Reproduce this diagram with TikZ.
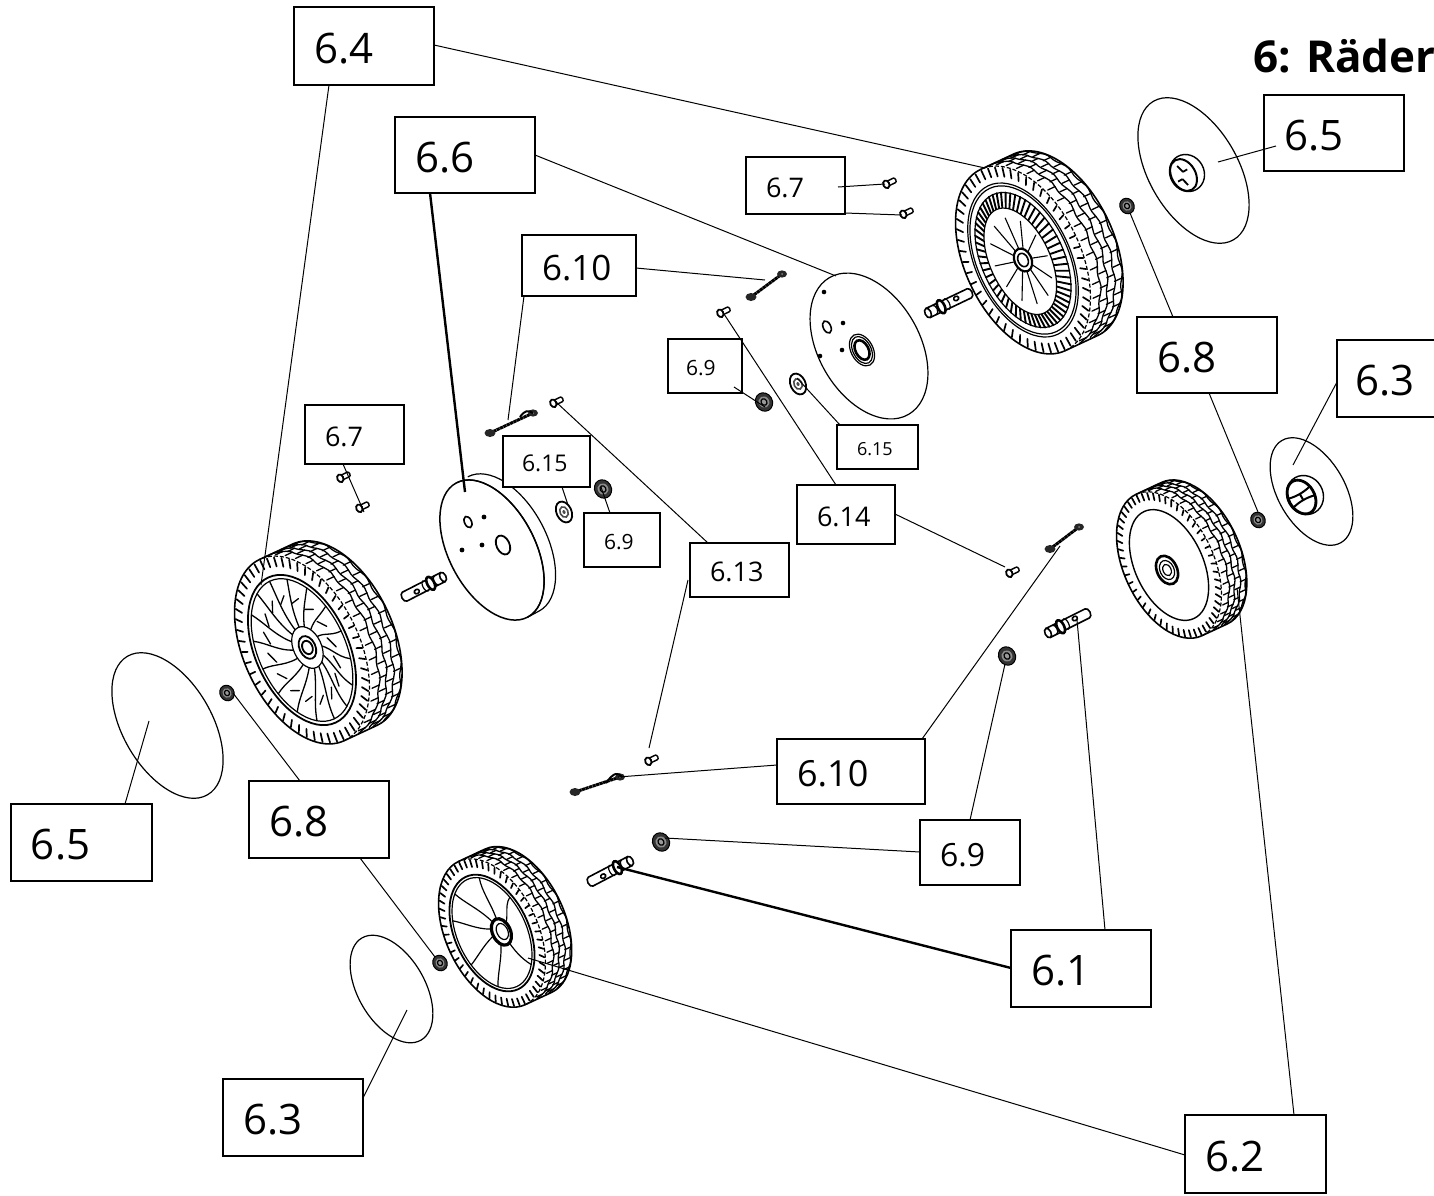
\documentclass[tikz,border=0pt]{standalone}
\usepackage{fontspec}
\setmainfont{Open Sans}
\usetikzlibrary{calc}
\tikzset{
  bx/.style={draw=black,line width=1.25pt,fill=white,anchor=north west,inner ysep=0pt,outer sep=0pt,align=left},
  lead/.style={draw=black,line width=0.5pt},
  leadthick/.style={draw=black,line width=1.2pt},
  part/.style={draw=black,line width=0.6pt},
  tread/.style={draw=black,line width=0.65pt,line cap=round}
}
\newcommand\bxx[8]{%
  \pgfmathsetlengthmacro\bw{(#4-#2)*0.5pt}%
  \pgfmathsetlengthmacro\bh{(#5-#3)*0.5pt}%
  \pgfmathsetlengthmacro\bi{#6*0.5pt}%
  \pgfmathsetlengthmacro\bt{\bw-2*\bi}%
  \node[bx,minimum width=\bw,minimum height=\bh,inner xsep=\bi,text width=\bt] (#1) at (#2,#3)
    {\fontsize{#7}{#7}\selectfont\mbox{\raisebox{-1pt}[1\height][0pt]{#8}}};}
% wheel: cx cy a b w inner-drawing
\newcommand\wheelpart[6]{%
\begin{scope}[shift={(#1,#2)},rotate=-65]
  \def\wa{#3}\def\wb{#4}\def\ww{#5}
  \draw[part,line width=.8pt] (\wa,0) arc[start angle=0,end angle=180,x radius=\wa,y radius=\wb]
     -- (-\wa,-\ww) arc[start angle=180,end angle=360,x radius=\wa,y radius=\wb] -- cycle;
  \draw[part,dash pattern=on 2pt off 1pt] (\wa,0) arc[start angle=0,end angle=-180,x radius=\wa,y radius=\wb];
  % sidewall teeth
  \foreach \k in {0,...,51}{
    \pgfmathsetmacro\tq{\k*6.923}
    \draw[tread,line width=.85pt] ({.985*\wa*cos(\tq)},{.985*\wb*sin(\tq)}) -- ({.89*\wa*cos(\tq)},{.89*\wb*sin(\tq)});
  }
  % tread blocks
  \foreach \r in {0,1,2,3}{
    \pgfmathsetmacro\sa{.08+.22*\r}
    \pgfmathsetmacro\sb{\sa+.22}
    \foreach \j in {0,...,18}{
      \pgfmathsetmacro\tta{184+9*\j+4.5*mod(\r,2)}
      \pgfmathsetmacro\ttb{\tta+9}
      \pgfmathsetmacro\ttm{\tta+4.5}
      \pgfmathsetmacro\wob{(mod(\j+\r,2)-.5)*.08}
      \ifdim\ttb pt<358pt
      \draw[tread] ({\wa*cos(\tta)},{\wb*sin(\tta)-\sa*\ww}) -- ({\wa*cos(\tta)},{\wb*sin(\tta)-\sb*\ww});
      \draw[tread,rounded corners=1pt] ({\wa*cos(\tta)},{\wb*sin(\tta)-\sb*\ww})
         -- ({\wa*cos(\ttm)},{\wb*sin(\ttm)-(\sb+\wob)*\ww})
         -- ({\wa*cos(\ttb)},{\wb*sin(\ttb)-\sb*\ww});
      \fi
    }
  }
  #6
\end{scope}}
% flat disc: cx cy a b angle
\newcommand\disc[5]{\begin{scope}[shift={(#1,#2)},rotate=-#5]\draw[part] (0,0) ellipse[x radius=#3,y radius=#4];\end{scope}}
\newcommand\nut[3]{\begin{scope}[shift={(#1,#2)},rotate=-60]
  \fill[black!80] (0,0) ellipse[x radius=#3,y radius=.88*#3];
  \draw[black,line width=.5pt] (0,0) ellipse[x radius=#3,y radius=.88*#3];
  \fill[white!55!black] (0,0) ellipse[x radius=.62*#3,y radius=.55*#3];
  \draw[black,line width=.6pt,fill=white!60!black] (0,0) ellipse[x radius=.36*#3,y radius=.3*#3];
\end{scope}}
\newcommand\washer[2]{\begin{scope}[shift={(#1,#2)},rotate=-65]
  \draw[black,line width=.9pt,fill=white] (0,0) ellipse[x radius=11,y radius=7.5];
  \draw[black!70,line width=.8pt] (0,0) ellipse[x radius=5.5,y radius=4];
  \fill[black!70] (0,0) ellipse[x radius=2,y radius=1.5];
\end{scope}}
\newcommand\shaft[4]{%
  \pgfmathsetmacro\sang{atan2(#4-#2,#3-#1)}%
  \pgfmathsetmacro\slen{veclen(#3-#1,#4-#2)}%
  \begin{scope}[shift={(#1,#2)},rotate=-\sang]
    \draw[part,line width=.8pt] (0,-5) -- (\slen-3,-5) arc[start angle=-90,end angle=90,x radius=3,y radius=5] -- (0,5);
    \draw[part,line width=.8pt,fill=white] (0,0) ellipse[x radius=3,y radius=5];
    \draw[part] (7,-5) arc[start angle=-90,end angle=90,x radius=3,y radius=5];
    \draw[part,line width=1.3pt,fill=white] (.3*\slen,0) ellipse[x radius=3.5,y radius=7];
    \draw[part] (.42*\slen,-6) arc[start angle=-90,end angle=90,x radius=3,y radius=6];
    \draw[part,line width=.8pt,fill=white] (.65*\slen,-1) ellipse[x radius=2.6,y radius=2.2];
  \end{scope}}
\newcommand\screw[2]{\begin{scope}[shift={(#1,#2)},rotate=26]
    \draw[part,line width=.7pt] (-2,-2.5) -- (6,-2.5) arc[start angle=-90,end angle=90,x radius=1.5,y radius=2.5] -- (-2,2.5);
    \draw[part,line width=.9pt,fill=white] (-3,0) ellipse[x radius=3,y radius=4];
\end{scope}}
\newcommand\rod[4]{%
  \draw[black,line width=1.5pt,dash pattern=on 1.6pt off .25pt] (#1,#2) -- (#3,#4);
  \fill[black!85] (#1,#2) ellipse[x radius=5.5,y radius=4];
  \fill[black!85] (#3,#4) ellipse[x radius=5,y radius=3.6];
  \fill[white!50!black] (#3,#4) circle[radius=1];}
\begin{document}
\begin{tikzpicture}[x=0.5pt,y=-0.5pt]
\useasboundingbox (0,0) rectangle (1434,1195);
\fill[white] (0,0) rectangle (1434,1195);

% ---------- wheel top right
\wheelpart{1023}{260}{100}{58}{36}{%
  \draw[part] (0,0) ellipse[x radius=82,y radius=47.5];
  \draw[part] (0,0) ellipse[x radius=79,y radius=45.5];
  \draw[part] (0,0) ellipse[x radius=72,y radius=41];
  \foreach \k in {0,...,59}{\pgfmathsetmacro\tq{\k*6}
    \draw[tread,line width=.95pt] ({72*cos(\tq)},{41*sin(\tq)}) -- ({57*cos(\tq)},{30*sin(\tq)+3});}
  \draw[part,fill=white] (0,3) ellipse[x radius=57,y radius=30];
  \foreach \k in {0,...,11}{\pgfmathsetmacro\tq{\k*30+8}
    \draw[tread,line width=.55pt] ({9*cos(\tq)},{6*sin(\tq)}) -- ({46*cos(\tq)},{26*sin(\tq)+2});}
  \draw[part,line width=1.1pt,fill=white] (0,0) ellipse[x radius=12,y radius=8.5];
  \draw[part,line width=.8pt] (0,0) ellipse[x radius=7,y radius=5];
}
% ---------- wheel left
\wheelpart{302}{650}{100}{58}{36}{%
  \draw[part,line width=.9pt] (0,0) ellipse[x radius=80,y radius=46.5];
  \draw[part] (0,0) ellipse[x radius=76,y radius=43.5];
  \foreach \k in {0,...,15}{\pgfmathsetmacro\tq{\k*22.5+6}\pgfmathsetmacro\tr{\tq+16}\pgfmathsetmacro\tm{\tq+4}
    \draw[tread] ({17*cos(\tq)},{9*sin(\tq)-6}) .. controls ({40*cos(\tm)},{24*sin(\tm)-3}) and ({55*cos(\tr)},{30*sin(\tr)}) .. ({76*cos(\tr)},{43.5*sin(\tr)});
    \draw[tread] ({50*cos(\tr)},{28*sin(\tr)}) -- ({58*cos(\tr+12)},{33*sin(\tr+12)});}
  \begin{scope}[shift={(0,-6)}]
  \draw[part,fill=white] (0,0) ellipse[x radius=22,y radius=14];
  \draw[part,line width=.9pt] (0,0) ellipse[x radius=12,y radius=8];
  \draw[part,line width=.9pt] (0,0) ellipse[x radius=7,y radius=5];
  \end{scope}
}
% ---------- wheel bottom
\wheelpart{492}{933}{79}{46}{29}{%
  \draw[part,line width=.9pt] (0,0) ellipse[x radius=62,y radius=37];
  \draw[part] (0,0) ellipse[x radius=59,y radius=34.5];
  \foreach \tq/\tr in {20/30,75/70,110/118,160/150,205/200,262/245,330/320}{
    \draw[part] ({12*cos(\tq)},{7*sin(\tq)-7}) .. controls ({30*cos(\tq)},{18*sin(\tq)-4}) and ({45*cos(\tr)},{24*sin(\tr)}) .. ({59*cos(\tr)},{34.5*sin(\tr)});}
  \begin{scope}[shift={(3,-9)}]
  \draw[part,line width=1.6pt,fill=white] (0,0) ellipse[x radius=14,y radius=9];
  \draw[part,fill=white] (0,-1) ellipse[x radius=8.5,y radius=5.5];
  \end{scope}
}
% ---------- wheel right
\wheelpart{1169}{565}{78}{45}{28}{%
  \draw[part,line width=.7pt] (0,0) ellipse[x radius=59,y radius=34];
  \begin{scope}[shift={(3.7,3.9)}]
  \draw[part,line width=1.3pt,fill=white] (0,0) ellipse[x radius=15,y radius=10];
  \draw[part] (0,0) ellipse[x radius=10,y radius=7];
  \draw[part] (0,0) ellipse[x radius=6,y radius=4];
  \end{scope}
}

% ---------- plate left
\begin{scope}[shift={(492,550)},rotate=-62]
  \draw[part] (76,0) arc[start angle=0,end angle=-180,x radius=76,y radius=43];
  \draw[part] (76,-13) arc[start angle=0,end angle=-180,x radius=76,y radius=43];
  \draw[part] (76,0) -- (76,-13);
  \draw[part,line width=.75pt] (0,0) ellipse[x radius=76,y radius=43];
\end{scope}
\begin{scope}[shift={(468,522)},rotate=-65]\draw[part,line width=.8pt] (0,0) ellipse[x radius=6,y radius=3.5];\end{scope}
\begin{scope}[shift={(503,545)},rotate=-65]\draw[part,line width=.9pt] (0,0) ellipse[x radius=10,y radius=6.5];\end{scope}
\fill (484,517) circle[radius=2.4];
\fill (482,545) circle[radius=2.4];
\fill (462,550) circle[radius=2.4];

% ---------- plate top
\disc{869}{346}{79}{50.5}{60}
\begin{scope}[shift={(862,350)},rotate=-62]
  \draw[part] (0,0) ellipse[x radius=17,y radius=11];
  \draw[part] (0,0) ellipse[x radius=14.5,y radius=9];
  \draw[part,line width=1.3pt] (0,0) ellipse[x radius=10.5,y radius=6.5];
\end{scope}
\begin{scope}[shift={(827,327)},rotate=-65]\draw[part,line width=.8pt] (0,0) ellipse[x radius=6.5,y radius=3.8];\end{scope}
\fill (843,323) circle[radius=2.3];
\fill (842,350) circle[radius=2.3];
\fill (824,292) circle[radius=2.3];
\fill (820,356) circle[radius=2.3];

% ---------- discs
\disc{1193.5}{170.5}{80}{44.6}{60}
\disc{167.5}{725.5}{80}{44.6}{60}
\disc{391.5}{989}{59}{33.5}{60}
\disc{1311.5}{491.5}{59}{33.5}{60}
\begin{scope}[shift={(1187,173)},rotate=-60]
  \draw[part,line width=.7pt] (0,0) ellipse[x radius=19,y radius=17];
  \draw[part,line width=1pt] (0,4) ellipse[x radius=17,y radius=12];
  \draw[part,line width=.9pt] (-11,5) -- (-3,3) (-3,3) -- (-3,-2) (11,5) -- (3,7) (3,7) -- (3,12);
\end{scope}
\begin{scope}[shift={(1305,495)},rotate=-60]
  \draw[part,line width=.7pt] (0,0) ellipse[x radius=20,y radius=18];
  \draw[part,line width=1.4pt] (0,4) ellipse[x radius=18,y radius=13];
  \draw[part,line width=1pt] (-5,-8) .. controls (-3,0) and (-3,8) .. (-5,16);
  \draw[part,line width=1pt] (5,-8) .. controls (3,0) and (3,8) .. (5,16);
  \draw[part,line width=1pt] (-4,4) -- (4,4);
\end{scope}

% ---------- shafts
\shaft{928}{313}{972}{292}
\shaft{443}{577}{402}{598}
\shaft{1048}{633}{1090}{612}
\shaft{630}{861}{588}{883}

% ---------- nuts and washers
\nut{1127}{206}{8}
\nut{227}{693}{8}
\nut{440}{963}{8}
\nut{1258}{520}{8}
\nut{764}{402}{9.5}
\nut{603}{489}{9.5}
\nut{1007}{656}{9.5}
\nut{661}{842}{9.5}
\washer{798}{384}
\washer{564}{512}

% ---------- screws
\screw{889}{183}
\screw{906}{213}
\screw{343}{477}
\screw{362}{507}
\screw{556}{402}
\screw{651}{760}
\screw{723}{312}
\screw{1012}{572}

% ---------- rods
\rod{751}{297}{782}{274}
\rod{490}{433}{533}{413}
\draw[black,line width=1pt] (533,413) .. controls (528,410) and (525,410) .. (520,417);
\rod{575}{792}{620}{777}
\draw[black,line width=1pt] (606,783) .. controls (614,772) and (618,772) .. (622,777);
\rod{1050}{549}{1079}{527}

% ---------- named leader ends
\coordinate (w1top) at (985,168);
\coordinate (w2top) at (261,585);
\coordinate (pl) at (465,492);
\coordinate (pt) at (836,276);
\coordinate (rt) at (765,280);
\coordinate (rm) at (508,420);
\coordinate (s71) at (885,184);
\coordinate (s72) at (902,215);
\coordinate (d51) at (1218,162);
\coordinate (n81) at (1130,213);
\coordinate (n82) at (1258,512);
\coordinate (d31) at (1293,465);
\coordinate (n91) at (765,407);
\coordinate (w151) at (797,378);
\coordinate (s141) at (724,314);
\coordinate (s142) at (1005,567);
\coordinate (s131) at (556,402);
\coordinate (s132) at (649,748);
\coordinate (w152) at (568,505);
\coordinate (n92) at (601,487);
\coordinate (s73) at (364,512);
\coordinate (rb) at (618,777);
\coordinate (rr) at (1060,546);
\coordinate (n93) at (1005,664);
\coordinate (n94) at (665,838);
\coordinate (sh1) at (617,867);
\coordinate (sh2) at (1077,620);
\coordinate (w3) at (528,958);
\coordinate (w4) at (1237,588);
\coordinate (d32) at (407,1010);
\coordinate (d52) at (149,721);
\coordinate (n83) at (233,693);
\coordinate (n84) at (435,957);

% ---------- label boxes
\bxx{b64}{294}{7}{434}{85}{20}{21}{6.4}
\bxx{b66}{395}{117}{535}{193}{20}{21}{6.6}
\bxx{b71}{746}{157}{845}{214}{20}{13.5}{6.7}
\bxx{b101}{522}{235}{636}{296}{20}{17.5}{6.10}
\bxx{b51}{1264}{95}{1404}{171}{20}{21}{6.5}
\bxx{b81}{1137}{317}{1277}{393}{20}{21}{6.8}
\bxx{b31}{1337}{340}{1440}{417}{18}{21}{6.3}
\bxx{b91}{668}{339}{742}{393}{18}{10.5}{6.9}
\bxx{b151}{837}{425}{918}{469}{20}{9}{6.15}
\bxx{b14}{797}{485}{895}{544}{20}{13.5}{6.14}
\bxx{b13}{690}{543}{789}{597}{20}{13.5}{6.13}
\bxx{b152}{503}{436}{590}{487}{19}{11.5}{6.15}
\bxx{b92}{584}{513}{660}{567}{20}{10.5}{6.9}
\bxx{b72}{305}{405}{404}{464}{20}{13.5}{6.7}
\bxx{b102}{777}{739}{925}{804}{20}{18}{6.10}
\bxx{b93}{920}{820}{1020}{885}{20}{16}{6.9}
\bxx{b61}{1011}{930}{1151}{1007}{20}{21}{6.1}
\bxx{b62}{1185}{1115}{1326}{1193}{20}{21}{6.2}
\bxx{b32}{223}{1079}{363}{1156}{20}{21}{6.3}
\bxx{b52}{11}{804}{152}{881}{20}{21}{6.5}
\bxx{b82}{249}{781}{389}{858}{20}{21}{6.8}

% ---------- leaders
\draw[lead] ($(b64.north east)+(0,38)$) -- (w1top);
\draw[lead] ($(b64.south west)+(35,0)$) -- (w2top);
\draw[leadthick] ($(b66.south west)+(35,0)$) -- (pl);
\draw[lead] ($(b66.north east)+(0,38)$) -- (pt);
\draw[lead] ($(b101.north east)+(0,33)$) -- (rt);
\draw[lead] ($(b101.south west)+(2,0)$) -- (rm);
\draw[lead] ($(b71.north east)+(-7,30)$) -- (s71);
\draw[lead] ($(b71.south east)+(0,-1)$) -- (s72);
\draw[lead] ($(b51.north west)+(12,51)$) -- (d51);
\draw[lead] ($(b81.north west)+(36,0)$) -- (n81);
\draw[lead] ($(b81.south west)+(72,0)$) -- (n82);
\draw[lead] ($(b31.north west)+(0,42)$) -- (d31);
\draw[lead] ($(b91.south east)+(-8,-6)$) -- (n91);
\draw[lead] ($(b151.north west)+(3,0)$) -- (w151);
\draw[lead] ($(b14.north west)+(39,0)$) -- (s141);
\draw[lead] ($(b14.north east)+(0,29)$) -- (s142);
\draw[lead] ($(b13.north west)+(18,0)$) -- (s131);
\draw[lead] ($(b13.north west)+(-2,37)$) -- (s132);
\draw[lead] ($(b152.south west)+(59,0)$) -- (w152);
\draw[lead] ($(b92.north west)+(26,0)$) -- (n92);
\draw[lead] ($(b72.south west)+(38,0)$) -- (s73);
\draw[lead] ($(b102.north west)+(0,26)$) -- (rb);
\draw[lead] ($(b102.north east)+(-3,0)$) -- (rr);
\draw[lead] ($(b93.north west)+(50,0)$) -- (n93);
\draw[lead] ($(b93.north west)+(0,32)$) -- (n94);
\draw[leadthick] ($(b61.north west)+(0,38)$) -- (sh1);
\draw[lead] ($(b61.north west)+(94,0)$) -- (sh2);
\draw[lead] ($(b62.north west)+(0,40)$) -- (w3);
\draw[lead] ($(b62.north west)+(109,0)$) -- (w4);
\draw[lead] ($(b32.north east)+(0,19)$) -- (d32);
\draw[lead] ($(b52.north west)+(114,0)$) -- (d52);
\draw[lead] ($(b82.north west)+(51,0)$) -- (n83);
\draw[lead] ($(b82.south west)+(111,0)$) -- (n84);

% ---------- title
\node[anchor=west,inner sep=0pt] (title) at (1253,56) {\fontsize{22}{24}\selectfont\bfseries 6: Räder};
\end{tikzpicture}
\end{document}
